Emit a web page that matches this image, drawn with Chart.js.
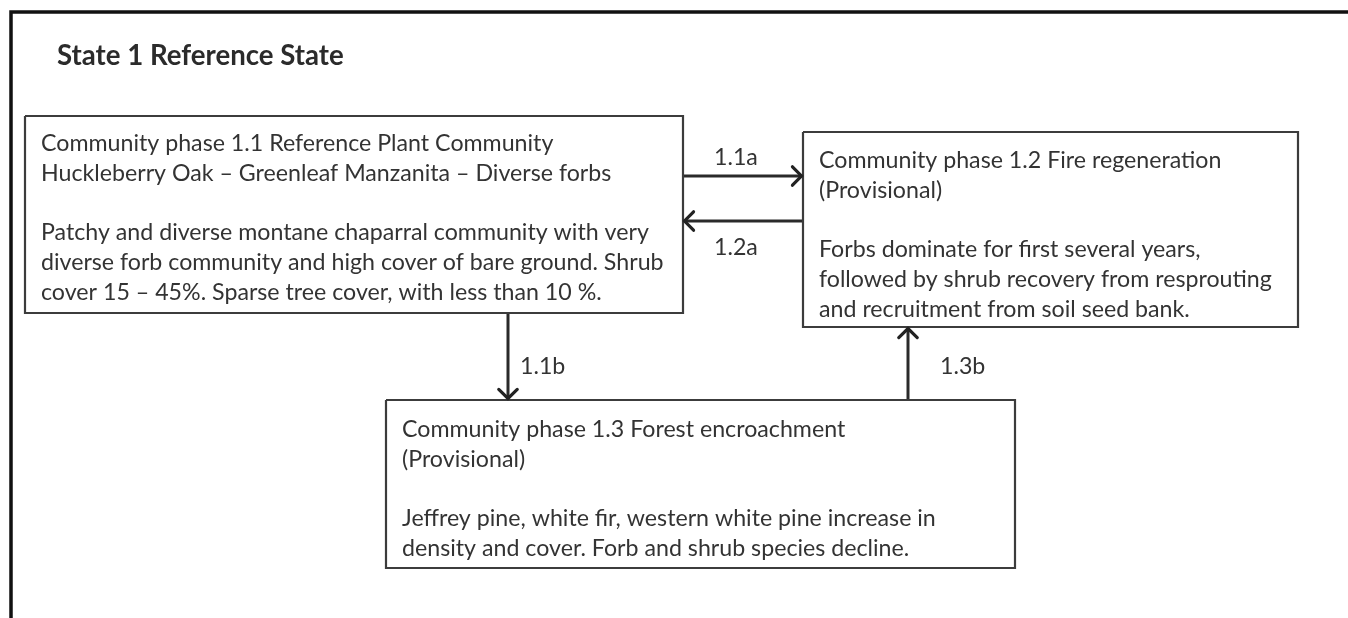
<!DOCTYPE html>
<html>
<head>
<meta charset="utf-8">
<script src="https://cdn.jsdelivr.net/npm/chart.js@4.4.1/dist/chart.umd.min.js"></script>
<style>
  html, body { margin: 0; padding: 0; background: #fff; }
  canvas { display: block; }
</style>
</head>
<body>
<canvas id="chartCanvas" width="1348" height="618"></canvas>
<script>
// DATA (diagram units = scale units, x 0..1348, y 0..618 top-down)

const stateTitle = 'State 1 Reference State';
const titleAt = [57, 56];

const phaseLines = [
  ['Community phase 1.1 Reference Plant Community',
   'Huckleberry Oak \u2013 Greenleaf Manzanita \u2013 Diverse forbs',
   '',
   'Patchy and diverse montane chaparral community with very',
   'diverse forb community and high cover of bare ground. Shrub',
   'cover 15 \u2013 45%. Sparse tree cover, with less than 10 %.'],
  ['Community phase 1.2 Fire regeneration',
   '(Provisional)',
   '',
   'Forbs dominate for first several years,',
   'followed by shrub recovery from resprouting',
   'and recruitment from soil seed bank.'],
  ['Community phase 1.3 Forest encroachment',
   '(Provisional)',
   '',
   'Jeffrey pine, white fir, western white pine increase in',
   'density and cover. Forb and shrub species decline.']
];
const boxLeft   = [25, 803, 386];
const boxRight  = [683, 1298, 1015];
const boxTop    = [116, 132, 400];
const boxBottom = [313, 327, 568];
const firstLineY = [143.5, 160.5, 429.5];
const lineStep = 29.8;

const transLabels = ['1.1a', '1.2a', '1.1b', '1.3b'];
const transFrom = [[683, 176], [803, 221], [508, 313], [908, 400]];
const transTo   = [[803, 176], [683, 221], [508, 400], [908, 327]];
const labelAt   = [[714, 158], [714, 248], [520, 367], [940, 367]];

// outer state frame (top and left edge only)
const frameLine = [[11, 618], [11, 12], [1348, 12]];

// DATASETS

const pts = arr => arr.map(p => ({ x: p[0], y: p[1] }));

const datasets = [];
datasets.push({
  data: pts(frameLine), showLine: true, borderColor: '#111', borderWidth: 3.5,
  pointRadius: 0, fill: false, clip: false
});
boxLeft.forEach((l, i) => {
  const r = boxRight[i], t = boxTop[i], b = boxBottom[i];
  datasets.push({
    data: pts([[l, t], [r, t], [r, b], [l, b], [l, t]]),
    showLine: true, borderColor: '#3c3c3c', borderWidth: 2.2,
    pointRadius: 0, fill: false, clip: false, borderJoinStyle: 'miter'
  });
});
transLabels.forEach((lab, i) => {
  datasets.push({
    data: pts([transFrom[i], transTo[i]]),
    showLine: true, borderColor: '#2a2a2a', borderWidth: 3,
    pointRadius: 0, fill: false, clip: false
  });
});

// text + arrow heads
const diagramText = {
  id: 'diagramText',
  afterDatasetsDraw(chart) {
    const ctx = chart.ctx;
    const x = chart.scales.x, y = chart.scales.y;
    ctx.save();
    ctx.textBaseline = 'middle';
    ctx.fillStyle = '#2b2b2b';
    ctx.font = 'bold 27.6px Lato';
    ctx.fillText(stateTitle, x.getPixelForValue(titleAt[0]), y.getPixelForValue(titleAt[1]));

    ctx.fillStyle = '#333';
    ctx.font = '23.2px Lato';
    phaseLines.forEach((lines, i) => {
      lines.forEach((s, j) => {
        ctx.fillText(s, x.getPixelForValue(boxLeft[i] + 16), y.getPixelForValue(firstLineY[i] + j * lineStep));
      });
    });
    transLabels.forEach((lab, i) => {
      ctx.fillText(lab, x.getPixelForValue(labelAt[i][0]), y.getPixelForValue(labelAt[i][1]));
    });

    // chevron heads
    ctx.strokeStyle = '#222';
    ctx.lineWidth = 3.2;
    ctx.lineCap = 'round';
    transLabels.forEach((lab, i) => {
      const fx = x.getPixelForValue(transFrom[i][0]), fy = y.getPixelForValue(transFrom[i][1]);
      const tx = x.getPixelForValue(transTo[i][0]), ty = y.getPixelForValue(transTo[i][1]);
      const a = Math.atan2(ty - fy, tx - fx);
      const len = 14, spread = 0.72;
      ctx.beginPath();
      ctx.moveTo(tx - len * Math.cos(a - spread), ty - len * Math.sin(a - spread));
      ctx.lineTo(tx - 1.5 * Math.cos(a), ty - 1.5 * Math.sin(a));
      ctx.lineTo(tx - len * Math.cos(a + spread), ty - len * Math.sin(a + spread));
      ctx.stroke();
    });
    ctx.restore();
  }
};

new Chart(document.getElementById('chartCanvas'), {
  type: 'scatter',
  data: { datasets: datasets },
  options: {
    responsive: false,
    animation: false,
    layout: { padding: 0 },
    plugins: { legend: { display: false }, tooltip: { enabled: false } },
    scales: {
      x: { type: 'linear', min: 0, max: 1348, display: false },
      y: { type: 'linear', min: 0, max: 618, reverse: true, display: false }
    }
  },
  plugins: [diagramText]
});
</script>
</body>
</html>
